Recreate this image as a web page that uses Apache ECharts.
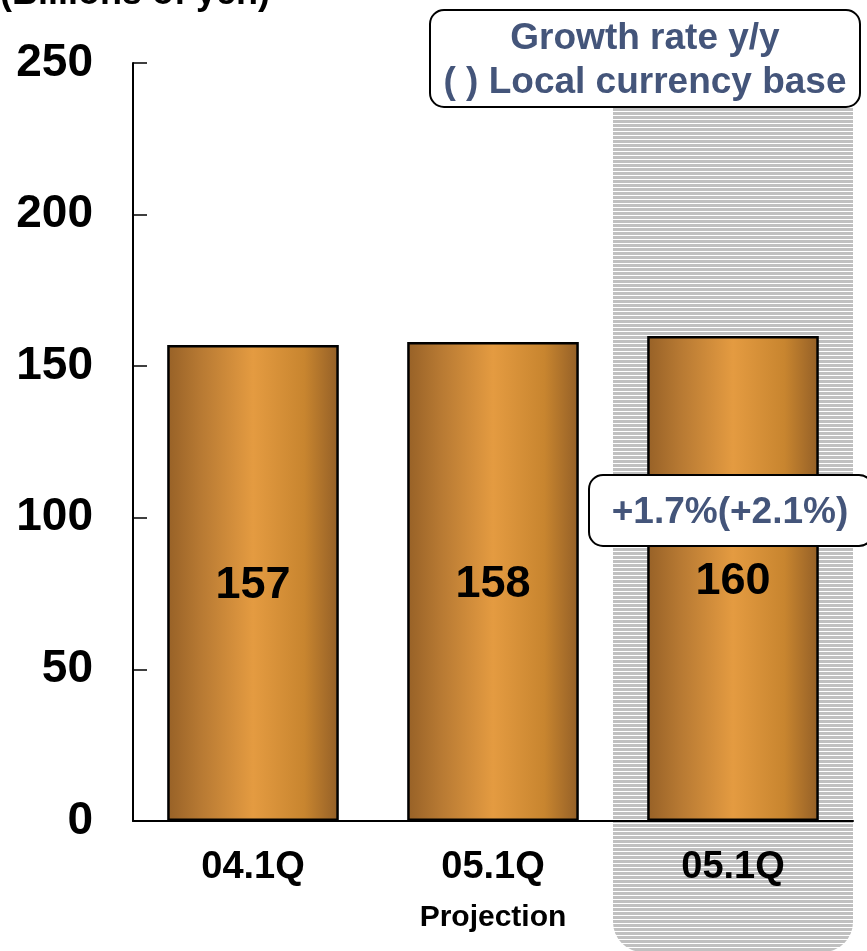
<!DOCTYPE html>
<html><head><meta charset="utf-8">
<script src="https://cdn.jsdelivr.net/npm/echarts@6/dist/echarts.min.js"></script>
<style>html,body{margin:0;padding:0;background:#fff}#c{width:867px;height:951px}</style>
</head><body><div id="c"></div>
<script>
const categories = ['04.1Q', '05.1Q', '05.1Q'];
const subLabels = ['', 'Projection', ''];
const values = [157, 158, 160];
const yTicks = { min: 0, max: 250, interval: 50 };
const unitTitle = '(Billions of yen)';
const legendLines = ['Growth rate y/y', '( ) Local currency base'];
const growthNote = '+1.7%(+2.1%)';

const FONT = 'Liberation Sans, Arial, sans-serif';
const NOTE_COLOR = '#44557a';

const chart = echarts.init(document.getElementById('c'), null, { renderer: 'canvas' });

const barGrad = new echarts.graphic.LinearGradient(0, 0, 1, 0, [
  { offset: 0, color: '#976127' },
  { offset: 0.2, color: '#b87a33' },
  { offset: 0.5, color: '#e49b41' },
  { offset: 0.8, color: '#c8852f' },
  { offset: 1, color: '#935f27' }
]);

// stripe pattern
const pc = document.createElement('canvas');
pc.width = 4; pc.height = 4;
const pctx = pc.getContext('2d');
pctx.fillStyle = '#ffffff'; pctx.fillRect(0, 0, 4, 4);
pctx.fillStyle = '#c0c0c0'; pctx.fillRect(0, 0, 4, 3);

chart.setOption({
  animation: false,
  grid: { left: 133, right: 14, top: 63, bottom: 130 },
  xAxis: {
    type: 'category',
    data: categories.map((c, i) => subLabels[i] ? c + '\n{p|' + subLabels[i] + '}' : c),
    axisLine: { lineStyle: { color: '#000', width: 2 } },
    axisTick: { inside: true, length: 12, lineStyle: { color: '#000', width: 1.5 } },
    axisLabel: {
      interval: 0, hideOverlap: false,
      color: '#000', fontSize: 38, fontWeight: 'bold', fontFamily: FONT, margin: 22,
      lineHeight: 50,
      rich: { p: { fontSize: 30, fontWeight: 'bold', fontFamily: FONT, color: '#000', lineHeight: 50 } }
    }
  },
  yAxis: {
    type: 'value', min: yTicks.min, max: yTicks.max, interval: yTicks.interval,
    splitLine: { show: false },
    axisLine: { show: true, lineStyle: { color: '#000', width: 2 } },
    axisTick: { show: true, inside: true, length: 14, lineStyle: { color: '#000', width: 1.5 } },
    axisLabel: { color: '#000', fontSize: 46, fontWeight: 'bold', fontFamily: FONT, margin: 40, padding: [5, 0, 0, 0] }
  },
  series: [{
    type: 'bar',
    data: values,
    barWidth: '71.5%',
    z: 5,
    itemStyle: { color: barGrad, borderColor: '#000', borderWidth: 2.5 },
    label: { show: true, position: 'inside', offset: [0, 3], color: '#000', fontSize: 45, fontWeight: 'bold', fontFamily: FONT }
  }]
});

function layoutGraphics() {
  const c2 = chart.convertToPixel({ xAxisIndex: 0 }, 2);
  const c1 = chart.convertToPixel({ xAxisIndex: 0 }, 1);
  const band = c2 - c1;
  const hx = c2 - band / 2;
  chart.setOption({
    graphic: [
      {
        type: 'rect', z: -10, silent: true,
        shape: { x: hx, y: 108, width: band, height: 951 - 108 + 1, r: [0, 0, 30, 30] },
        style: { fill: { image: pc, repeat: 'repeat' } }
      },
      {
        type: 'text', z: 20, left: 0, top: -24,
        style: { text: unitTitle, fontSize: 36, fontWeight: 'bold', fontFamily: FONT, fill: '#000' }
      },
      {
        type: 'rect', z: 20,
        shape: { x: 430, y: 10, width: 430, height: 97, r: 14 },
        style: { fill: '#fff', stroke: '#000', lineWidth: 2 }
      },
      {
        type: 'text', z: 21, x: 645, y: 39,
        style: { text: legendLines[0], fontSize: 37, fontWeight: 'bold', fontFamily: FONT, fill: NOTE_COLOR, align: 'center', verticalAlign: 'middle' }
      },
      {
        type: 'text', z: 21, x: 645, y: 83,
        style: { text: legendLines[1], fontSize: 37, fontWeight: 'bold', fontFamily: FONT, fill: NOTE_COLOR, align: 'center', verticalAlign: 'middle' }
      },
      {
        type: 'rect', z: 20,
        shape: { x: 589, y: 475, width: 284, height: 71, r: 14 },
        style: { fill: '#fff', stroke: '#000', lineWidth: 2 }
      },
      {
        type: 'text', z: 21, x: 730, y: 513,
        style: { text: growthNote, fontSize: 37, fontWeight: 'bold', fontFamily: FONT, fill: NOTE_COLOR, align: 'center', verticalAlign: 'middle' }
      }
    ]
  });
}
layoutGraphics();
</script>
</body></html>
